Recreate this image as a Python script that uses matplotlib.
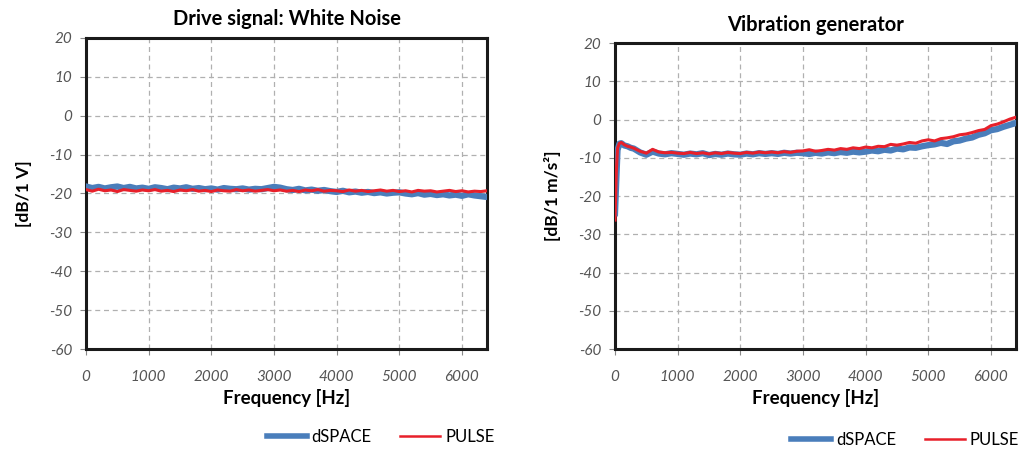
import numpy as np
import matplotlib
matplotlib.use("Agg")
import matplotlib.pyplot as plt
from matplotlib.lines import Line2D

plt.rcParams['font.family'] = ['Lato', 'DejaVu Sans']
plt.rcParams['axes.unicode_minus'] = False

# ---------------- data ----------------
freq_left = np.arange(0, 6401, 100)
dspace_left = [
    -18.2, -18.6, -18.3, -18.7, -18.4, -18.2, -18.6, -18.3, -18.7, -18.5,
    -18.8, -18.4, -18.6, -18.9, -18.5, -18.7, -18.4, -18.8, -18.6, -18.9,
    -18.7, -19.0, -18.6, -18.8, -18.9, -18.7, -19.0, -18.8, -18.9, -18.6,
    -18.3, -18.5, -18.9, -19.1, -18.8, -19.2, -19.0, -19.3, -19.1, -19.4,
    -19.6, -19.3, -19.7, -19.5, -19.8, -19.6, -19.9, -19.7, -20.0, -19.8,
    -19.7, -20.0, -20.2, -19.9, -20.3, -20.1, -20.4, -20.2, -20.5, -20.3,
    -20.6, -20.2, -20.5, -20.7, -20.9,
]
pulse_left = [
    -19.0, -19.4, -18.9, -19.3, -19.1, -19.5, -19.0, -19.2, -19.4, -19.1,
    -19.3, -19.0, -19.4, -19.2, -19.5, -19.1, -19.3, -19.0, -19.4, -19.2,
    -19.5, -19.1, -19.3, -19.4, -19.0, -19.3, -19.1, -19.4, -19.2, -19.0,
    -19.3, -19.1, -19.4, -19.2, -19.5, -19.1, -19.3, -19.0, -19.4, -19.2,
    -19.3, -19.5, -19.1, -19.4, -19.2, -19.5, -19.3, -19.1, -19.4, -19.2,
    -19.5, -19.3, -19.6, -19.2, -19.4, -19.3, -19.6, -19.4, -19.2, -19.5,
    -19.3, -19.6, -19.4, -19.5, -19.3,
]

freq_right = [0, 20, 40, 70, 100, 150, 200, 250, 300] + list(range(400, 6401, 100))
dspace_right = [
    -24.5, -16.0, -8.0, -6.3, -6.2, -6.8, -7.0, -7.4, -7.6,
    -8.6, -9.2, -8.4, -8.9, -9.1, -8.8, -9.0, -9.2, -8.9, -9.1,
    -8.8, -9.3, -9.0, -9.2, -8.9, -9.1, -9.2, -8.9, -9.1, -8.8,
    -9.0, -8.8, -9.0, -8.7, -8.9, -8.7, -8.8, -9.0, -8.7, -8.9,
    -8.6, -8.8, -8.5, -8.7, -8.4, -8.6, -8.4, -8.1, -8.3, -7.9,
    -8.1, -7.6, -7.8, -7.3, -7.4, -7.0, -6.7, -6.5, -6.1, -6.4,
    -5.7, -5.5, -5.0, -4.7, -4.0, -3.6, -2.8, -2.5, -1.9, -1.4,
    -0.9,
]
pulse_right = [
    -26.3, -14.0, -7.5, -6.2, -6.0, -6.6, -7.0, -7.2, -7.5,
    -8.3, -8.8, -7.8, -8.5, -8.7, -8.6, -8.8, -8.9, -8.6, -8.9,
    -8.7, -9.0, -8.7, -8.9, -8.6, -8.8, -8.9, -8.6, -8.8, -8.5,
    -8.7, -8.5, -8.7, -8.4, -8.6, -8.3, -8.2, -7.9, -8.3, -8.1,
    -7.8, -8.0, -7.6, -7.8, -7.4, -7.6, -7.2, -7.4, -7.0, -7.1,
    -6.5, -6.7, -6.4, -6.0, -6.2, -5.6, -5.3, -5.6, -5.0, -4.8,
    -4.5, -4.0, -3.8, -3.4, -2.9, -2.6, -1.6, -1.2, -0.6, 0.1,
    0.6,
]

titles = ["Drive signal: White Noise", "Vibration generator"]
ylabels = ["[dB/1 V]", "[dB/1 m/s²]"]
xlabel = "Frequency [Hz]"
series_names = ["dSPACE", "PULSE"]
xticks = [0, 1000, 2000, 3000, 4000, 5000, 6000]
yticks = [-60, -50, -40, -30, -20, -10, 0, 10, 20]

BLUE = "#4a7ebb"
RED = "#e8202a"

fig = plt.figure(figsize=(10.24, 4.49), dpi=100)
ax1 = fig.add_axes([0.084, 0.2227, 0.3916, 0.6927])
ax2 = fig.add_axes([0.6006, 0.2227, 0.3916, 0.6815])

data = [
    (ax1, freq_left, dspace_left, pulse_left),
    (ax2, freq_right, dspace_right, pulse_right),
]

for i, (ax, f, d, p) in enumerate(data):
    ax.plot(f, d, color=BLUE, lw=4.5, solid_joinstyle='round', zorder=3)
    ax.plot(f, p, color=RED, lw=2.2, solid_joinstyle='round', zorder=4)
    ax.set_xlim(0, 6400)
    ax.set_ylim(-60, 20)
    ax.set_xticks(xticks)
    ax.set_yticks(yticks)
    ax.grid(True, color="#b0b0b0", linestyle=(0, (4, 3)), linewidth=0.9)
    ax.set_axisbelow(True)
    for s in ax.spines.values():
        s.set_color("#1a1a1a")
        s.set_linewidth(2.2)
    ax.tick_params(axis='both', direction='out', length=4, width=0.8,
                   color="#888888", labelcolor="#555555", labelsize=11)
    ax.tick_params(axis='x', pad=11)
    ax.tick_params(axis='y', pad=6)
    for lab in ax.get_xticklabels() + ax.get_yticklabels():
        lab.set_fontstyle('italic')
    ax.set_title(titles[i], fontsize=14.5, fontweight='bold', pad=9)
    ax.set_xlabel(xlabel, fontsize=13.5, fontweight='bold', labelpad=4)
    ax.set_ylabel(ylabels[i], fontsize=12.5, fontweight='bold', labelpad=12)

handles = [Line2D([], [], color=BLUE, lw=4), Line2D([], [], color=RED, lw=1.8)]
fig.legend(handles, series_names, loc='center', bbox_to_anchor=(0.3716, 0.027),
           ncol=2, frameon=False, fontsize=12, handlelength=2.4,
           handletextpad=0.3, columnspacing=1.7)
fig.legend(handles, series_names, loc='center', bbox_to_anchor=(0.884, 0.02),
           ncol=2, frameon=False, fontsize=12, handlelength=2.4,
           handletextpad=0.3, columnspacing=1.7)

fig.savefig("out.png", dpi=100)
